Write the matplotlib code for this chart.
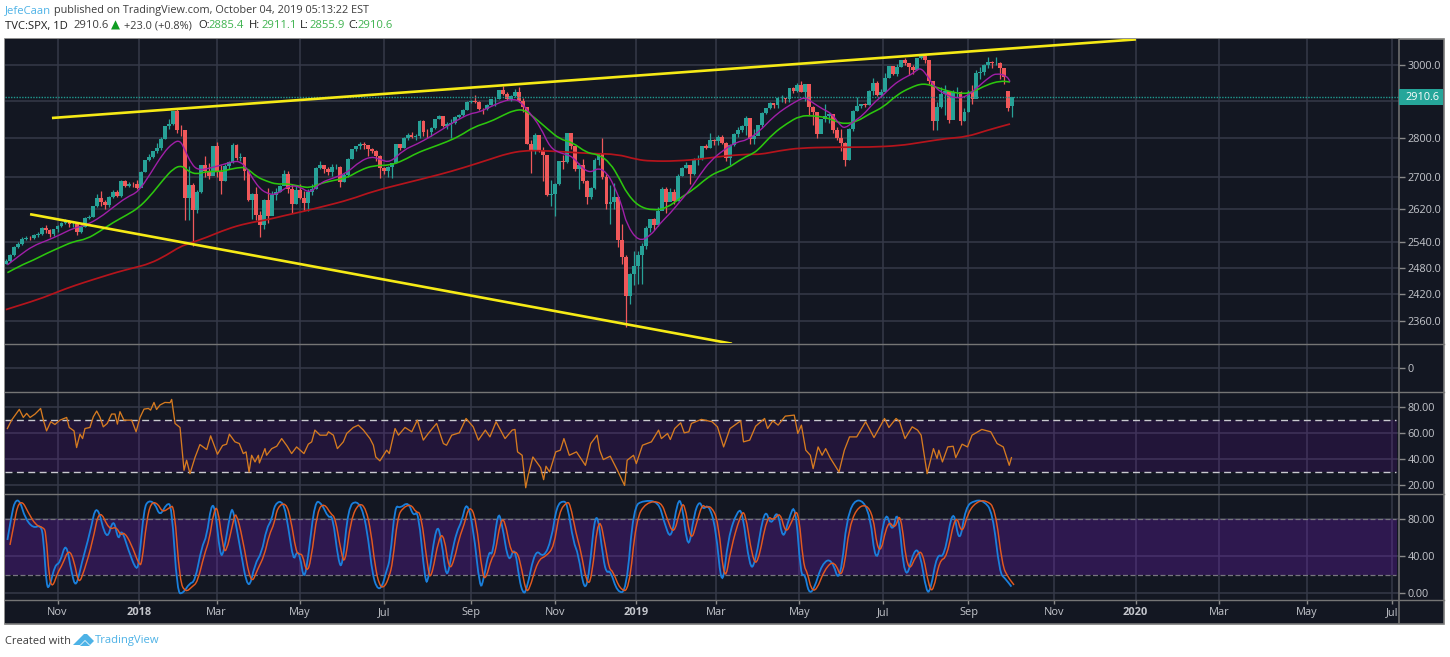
import numpy as np
import matplotlib
matplotlib.use("Agg")
import matplotlib.pyplot as plt
from matplotlib.patches import Rectangle, Polygon, PathPatch
from matplotlib.path import Path
from matplotlib.ticker import FixedLocator, FixedFormatter, NullLocator

plt.rcParams['font.family'] = ['Open Sans', 'DejaVu Sans']

W, H = 1450, 657

# ---- two-session candles, one sample every second bar
closes = [2497,2510,2529,2537,2549,2551,2550,2557,2561,2575,
 2569,2560,2572,2579,2587,2591,2584,2584,2564,2578,
 2599,2602,2627,2648,2639,2630,2651,2664,2652,2690,
 2679,2683,2682,2673,2713,2743,2751,2767,2776,2798,
 2832,2837,2872,2822,2821,2648,2681,2619,2662,2731,
 2716,2703,2779,2713,2691,2728,2738,2783,2750,2752,
 2716,2643,2658,2605,2582,2644,2604,2656,2663,2677,
 2708,2670,2634,2667,2648,2635,2663,2671,2723,2730,
 2722,2712,2725,2727,2689,2705,2746,2772,2779,2786,
 2782,2773,2767,2755,2723,2716,2726,2736,2784,2774,
 2801,2809,2804,2806,2846,2818,2816,2827,2850,2858,
 2833,2839,2840,2857,2861,2875,2897,2901,2896,2878,
 2877,2888,2904,2904,2930,2919,2906,2914,2923,2901,
 2884,2785,2767,2809,2768,2756,2656,2658,2682,2740,
 2738,2814,2781,2722,2730,2690,2650,2673,2744,2760,
 2700,2633,2637,2650,2545,2506,2416,2467,2485,2510,
 2531,2574,2596,2582,2616,2670,2639,2664,2640,2704,
 2724,2731,2707,2745,2746,2780,2774,2796,2793,2803,
 2789,2749,2783,2811,2822,2832,2855,2798,2805,2834,
 2867,2880,2895,2888,2907,2907,2905,2934,2926,2943,
 2924,2945,2884,2871,2812,2850,2860,2865,2822,2802,
 2788,2744,2826,2873,2885,2891,2889,2926,2950,2917,
 2924,2964,2996,2975,2993,3014,3004,2995,2985,3020,
 3025,3013,2954,2845,2884,2919,2926,2848,2924,2924,
 2847,2869,2924,2906,2976,2979,3000,3007,3005,3006,
 2992,2965,2880,2910.6]
highs = [2500,2512,2531,2540,2552,2555,2555,2559,2564,2578,
 2582,2573,2572,2582,2589,2597,2594,2590,2586,2582,
 2601,2606,2628,2658,2665,2642,2652,2669,2668,2694,
 2694,2689,2687,2692,2715,2744,2760,2768,2787,2803,
 2833,2850,2873,2877,2836,2822,2728,2686,2668,2732,
 2754,2735,2780,2790,2731,2733,2741,2787,2786,2761,
 2745,2718,2661,2675,2617,2645,2672,2666,2672,2680,
 2718,2716,2683,2677,2682,2665,2670,2683,2726,2742,
 2732,2727,2733,2733,2728,2710,2749,2773,2779,2791,
 2790,2782,2775,2770,2756,2725,2729,2737,2785,2785,
 2804,2815,2816,2811,2848,2848,2825,2830,2851,2863,
 2860,2844,2850,2859,2865,2877,2899,2903,2917,2900,
 2882,2892,2906,2911,2930,2941,2925,2915,2932,2939,
 2909,2884,2795,2813,2809,2778,2750,2692,2686,2741,
 2756,2815,2815,2781,2735,2746,2693,2675,2750,2760,
 2800,2708,2680,2685,2650,2585,2510,2468,2520,2519,
 2538,2580,2597,2598,2625,2675,2675,2672,2670,2708,
 2726,2738,2732,2748,2757,2781,2785,2814,2798,2808,
 2809,2790,2785,2813,2830,2835,2860,2846,2826,2836,
 2869,2882,2896,2895,2911,2917,2909,2936,2937,2950,
 2954,2947,2932,2885,2863,2852,2892,2868,2860,2830,
 2825,2790,2827,2875,2910,2892,2895,2930,2964,2955,
 2932,2977,2996,2996,3002,3014,3018,3006,3000,3020,
 3028,3030,3014,2945,2898,2938,2944,2925,2931,2939,
 2928,2880,2931,2943,2986,2993,3001,3021,3011,3022,
 3007,2992,2927,2911.1]
lows = [2488,2494,2508,2526,2535,2545,2546,2548,2552,2558,
 2562,2552,2556,2566,2576,2584,2576,2578,2557,2562,
 2576,2597,2600,2625,2627,2620,2625,2648,2650,2650,
 2676,2675,2676,2670,2682,2713,2740,2748,2762,2770,
 2798,2825,2835,2815,2805,2593,2593,2532,2610,2660,
 2700,2696,2710,2700,2659,2690,2721,2736,2745,2740,
 2693,2640,2596,2593,2553,2573,2586,2606,2642,2662,
 2681,2660,2612,2632,2645,2617,2615,2655,2670,2720,
 2710,2705,2704,2720,2676,2688,2700,2747,2768,2773,
 2772,2755,2761,2741,2698,2709,2700,2698,2736,2770,
 2774,2795,2800,2795,2802,2805,2800,2805,2826,2850,
 2830,2826,2802,2838,2853,2858,2875,2893,2895,2875,
 2864,2875,2888,2885,2905,2915,2903,2900,2910,2898,
 2870,2784,2710,2760,2764,2690,2653,2627,2603,2680,
 2722,2735,2772,2716,2670,2685,2632,2645,2670,2730,
 2695,2621,2585,2621,2528,2488,2346,2397,2440,2444,
 2443,2524,2565,2570,2580,2620,2612,2640,2632,2640,
 2704,2723,2682,2705,2731,2745,2771,2775,2783,2782,
 2785,2741,2730,2780,2804,2818,2810,2785,2786,2810,
 2830,2866,2877,2880,2881,2896,2893,2896,2922,2925,
 2923,2900,2862,2836,2801,2820,2844,2840,2815,2795,
 2766,2729,2745,2820,2873,2880,2883,2888,2915,2913,
 2912,2925,2964,2970,2968,2993,3000,2970,2974,2985,
 3015,3005,2945,2822,2822,2880,2862,2840,2860,2910,
 2834,2845,2870,2891,2915,2960,2970,2990,2990,3000,
 2960,2945,2874,2855.9]
opens = [2490] + closes[:-3] + [2927, 2885.4]

# ---- moving averages (bar number, price)
ma20_bars = [.8,7.1,13.8,20.5,27.2,33.9,40.7,47.4,54,60.8,66.6,72.5,79.2,84.2,87.6,90,93.5,96.8,101,107.7,114.4,117.7,121,124.4,127.8,131.1,135.3,139.5,142.9,147.9,
 153,158,164.8,171.5,178.2,184,188.2,193.3,200,206.7,213.4,220.1,226.8,233.5,237.7,243.6,250.3,255.3,258.7,263.7,268.8,
 273.7,278.7,282,285.4,289.6,293.8,298,302.2,305.5,309.7,312.2,318.1,324,329,334,339.1,344.1,349.1,354.2,360.9,367.6,372.6,
 379.2,384.2,389.2,394.3,398.5,401.8,406,411,415.2,419.4,421.9,426.1,431.1,436.2,441.2,446.2,451.2,456.3,459.6,463,467.2,473,478,483.1,488.1,494.8,498.2,503.2,504.9]
ma20_vals = [2487,2510,2532,2544,2558,2574,2582,2600,2625,2650,2663,2707,2762,2789,2795,2770,2732,2718,2721,2730,2740,2740,2724,2694,2671,2660,2655,2669,2679,2676,
 2659,2686,2698,2711,2741,2753,2745,2737,2770,2785,2804,2826,2848,2866,2869,2884,2900,2905,2898,2866,2830,
 2775,2762,2758,2750,2724,2711,2724,2711,2682,2631,2582,2542,2555,2586,2610,2640,2669,2707,2741,2770,2791,2795,
 2820,2848,2871,2889,2902,2910,2894,2877,2866,2835,2826,2844,2862,2894,2916,2944,2962,2976,2993,2972,2935,2916,2907,2912,2935,2967,2976,2969,2953]
ma50_bars = [.8,7.1,13.8,20.5,27.2,33.9,40.7,47.4,54,60.8,66.6,72.5,79.2,84.2,88.4,91.8,96,101,107.7,112.7,117.7,121,126.1,131.1,136.2,141.2,147.9,
 153,158,164.8,171.5,178.2,184.9,193.3,200,206.7,213.4,221.8,228.5,235.2,243.6,250.3,255.3,260.3,265.4,272.1,
 278.7,284.5,292.1,298,303.8,308.8,312.2,318.1,325.6,332.3,339.1,345.8,352.5,357.5,362.5,370.9,375.9,
 379.2,385.9,392.6,399.3,406,412.7,417.7,421.9,427.8,434.5,441.2,447.9,454.6,461.3,468,474.7,481.4,486.5,493.2,499.9,504.9]
ma50_vals = [2469,2485,2498,2514,2528,2542,2548,2567,2588,2606,2623,2652,2694,2722,2730,2715,2707,2715,2714,2720,2725,2724,2701,2690,2682,2684,2677,
 2673,2684,2692,2698,2718,2730,2730,2743,2762,2775,2791,2807,2830,2844,2862,2874,2877,2857,2826,
 2797,2791,2762,2758,2737,2694,2660,2627,2617,2623,2648,2669,2698,2713,2721,2750,2761,
 2775,2813,2839,2860,2860,2855,2844,2838,2844,2866,2883,2916,2936,2949,2937,2925,2919,2925,2944,2955,2952]
ma200_bars = [0,15.2,22.2,30.6,39,47.4,55.8,64.1,72.5,80.9,87.6,92.6,101,111.1,121.1,131.1,139.5,147.9,
 159.7,173.1,184.9,201.6,218.4,230.1,243.6,251.9,260.3,268.7,277.2,
 295.5,307.2,317.3,324,337.4,350.8,362.5,374.3,
 379.2,389.2,399.3,416,434.5,449.5,459.6,473,483.1,493.2,504.9]
ma200_vals = [2385,2406,2418,2433,2446,2458,2470,2480,2490,2510,2530,2538,2552,2572,2586,2594,2604,2613,
 2627,2644,2665,2686,2707,2724,2746,2760,2768,2768,2766,
 2760,2759,2745,2741,2741,2747,2755,2759,
 2758,2768,2775,2777,2777,2781,2789,2800,2804,2821,2838]

# ---- hand-drawn trend lines (bar number, price)
upper_bars, upper_vals = [23.2, 568.2], [2854, 3072]
lower_bars, lower_vals = [12.2, 365.1], [2608, 2310]

# ---- RSI
rsi_bars = [.8,2.9,6.8,8.8,10.5,12.2,14.7,17.5,18.9,20.5,22.6,24.7,27.2,30.6,31.9,34.3,35.6,37.3,38.6,39.8,42.3,44,45.7,47.4,49,51,53.2,54.9,56.1,57.4,59.4,63.3,65.5,67.5,69.5,71.7,72.8,74.5,75.8,77.5,80,82.6,83.4,85.1,87.6,89.6,90.9,92.6,95.1,97.6,101,103,106.4,109,111,112.4,115.2,117.4,119.4,120.8,122.3,123.6,125.3,127,127.5,130.3,131.1,133.7,136.2,138.7,141.5,143.7,146.2,149.9,152.1,153.8,155.4,158,161.3,162.2,164.7,166.7,169.7,171.4,174.7,177.2,179.8,183.1,184.8,186,188.1,191.5,192.8,195.7,197.4,200.7,204.1,206.9,209.9,212.4,216.6,220,221.6,224.2,228,231.4,235,237.6,
 241.1,243.4,246.5,251,254.6,256,257.3,259.6,261.4,262.6,265,268.9,270.4,271.6,273.4,276.5,278.8,280.6,283.3,286.9,291.4,294.1,297.3,298.6,300.4,303.9,307.5,311.1,312.4,315.6,317,320.1,324.6,328.2,329.6,332.7,334.1,336.3,339.3,341.1,343.4,344.7,349.7,355.1,357.8,360.9,364.1,369.5,370.9,374,377,381.5,383,385.6,388.3,391.9,396.4,398.2,400,402.2,404.5,405.9,408.4,410.4,412.2,414.4,418.9,421.6,424.2,427.8,432.3,436.5,441.8,444,447.6,449.4,452.1,455.7,458.4,460.2,463.2,466.4,468.2,469.1,470.9,473.6,476.3,477.6,480.8,483.5,485.8,490.7,495.2,498.4,501.5,504.5,505.6]
rsi_vals = [63.3,69.7,78,71.8,74.9,71.8,74.4,78.7,69.7,61.5,68.5,66.4,69.7,71.8,64.1,61.5,48.7,59,55.6,63.3,64.1,72.3,76.7,71.8,64.6,67.2,74.4,74.4,66.7,76.2,69.7,69.7,60.8,71.8,78.2,78.7,77.4,83.3,77.9,81.3,83.3,83.1,85.6,67.2,64.1,31.3,39,28.7,41,51,47.2,57.7,43.6,50.3,51.3,59,53.1,51.8,44.1,45.4,30,42.8,37.7,42.8,36.9,47.9,42.8,47.9,49.7,55.6,49.7,44.1,49.2,44.1,51.3,53.1,62.1,58.2,58.2,60.8,58.2,47.9,53.1,59.5,64.1,65.9,62.1,55.6,50.5,41.5,38.5,46.7,44.1,63.3,58.2,64.1,60.8,69.7,54.4,59.5,67.2,51.8,50.5,58.2,60,71,64.6,54.4,
 62.1,56.9,68.5,55.6,62.1,62.6,45.4,42.8,17.9,27.4,41.5,33.3,24.1,34.4,30,45.4,46.7,55.6,42.8,45.4,35.1,51.8,58.2,46.7,39.5,42.1,31.3,19.7,39,42.8,36.4,50.5,53.1,62.1,55.6,59.5,54.9,63.3,67.7,60,60.8,67.2,70.3,68.5,64.6,49.2,63.3,69.2,53.1,54.4,65.1,71,63.3,69.2,65.9,72.8,73.6,59.5,65.9,46.7,42.8,32.6,49.2,42.8,47.9,41,30,46.7,56.9,56.9,68.5,56.4,71,64.1,71,68.5,55.6,64.6,62.1,58.2,28.7,47.9,40.3,46.7,37.7,49.2,49.7,41,51.3,49.2,58.2,62.6,60.8,51.8,49.2,35.1,41]

# ---- Stochastic
stoch_bars = [.8,2.9,4.6,7.1,9.7,13.8,17.5,18.9,20.5,22.2,24.7,27.2,30.3,33.1,35.3,38.1,42.3,45.7,50.7,54.1,56.6,58.2,61.6,65.8,67.1,69.5,71.7,75,77.5,80.9,83.4,86.2,89.2,92.3,95.1,98.5,101,103.2,105.2,107.7,109.4,113.1,114.4,117.7,121.9,125.3,128.6,131.1,133.7,135.3,139.5,142,144.6,146.2,147.9,149.9,152.1,155.4,158.8,162.2,164.3,167.2,169.2,172.2,176.4,179.8,182.3,184.3,186.5,189,191.5,193.2,195.7,198.2,202.4,204.9,207.4,210.8,212.4,216.6,219.1,221.6,224.2,226.7,229.2,231.7,235,238.4,
 240.2,242.9,244.7,247.4,249.5,252.8,255.8,258.2,260,261.7,266.2,270.4,274.3,277,280.6,282.4,285.4,287.8,290.8,293.2,296.8,300.4,302.1,303.9,307.5,312,315.6,320.6,328.2,330.9,334.5,337.7,339.9,343.1,346.1,348.8,350.6,353.3,356.9,360.1,363.2,368,370.4,374,376.7,381.5,384.7,388,390.7,393.7,397,399.7,401.8,403.6,406.3,410.4,415.3,419.4,423.7,433.8,437.7,442.2,445.8,448.5,452.1,456.6,459.6,462.9,465,468.2,471.8,476.3,479.4,482.6,487.1,491.6,496.1,499.7,502.4,505.6]
stoch_k = [57.4,84.3,99.7,100,80.7,70,73.5,61,5.4,7.9,30.5,32.3,56.3,21.5,5.4,32.3,64.6,99.4,53.8,82.5,55.6,70,46.6,23.3,35.9,91.5,100,96.9,82.5,96.9,95,0,0,10.8,12.5,50.2,61,95,93.3,41.2,41.2,89.7,89.7,50.2,0,32.3,43,70,78.9,96.9,99.7,71.7,34.1,44.8,41.2,12.5,39.5,100,96.9,80.7,84.3,34.1,26.9,93.3,100,87.9,57.4,21.5,5.4,5.4,25.1,35.9,95,91.5,98.7,82.5,89.7,12.5,12.5,77.1,57.4,12.5,43,66.4,77.1,100,71.7,3.6,
 14.3,46.6,39.5,89,75.3,30.5,52,14.3,0,1.8,48.4,37.7,57.4,95,100,95,54.5,43,1.8,17.9,98.7,35.9,21.5,25.1,.7,1.8,93.3,100,98.7,77.1,55.6,100,98.7,42.3,86.1,100,89.7,96.1,71.7,0,61,89.7,87.9,26.9,30.5,94,71.7,91.5,55.6,80.7,97.6,17.9,21.5,0,3.6,32.3,37.7,7.2,100,99.7,21.5,93.3,62.8,94,9,47.4,44.8,0,3.6,43,37.7,96.1,50.2,93.3,100,99.7,87.9,21.5,16.1,7.2]
stoch_d = [52,75,95,99,88,73,71,66,16,6,22,31,48,35,9,24,55,92,68,72,62,66,54,30,32,78,98,97,87,92,95,12,1,7,12,42,57,88,94,52,42,78,88,60,8,26,40,63,75,93,98,80,45,42,42,22,34,90,97,85,82,45,30,80,98,91,66,30,8,6,18,33,82,92,96,87,87,28,13,62,62,24,36,60,74,95,82,18,
 16,38,42,78,80,42,46,25,4,2,36,40,50,88,98,97,64,46,10,14,88,48,26,24,4,2,80,98,99,82,62,90,99,54,76,96,92,94,78,8,48,84,89,38,30,84,78,88,64,76,94,30,22,4,3,26,36,12,88,99,34,80,68,90,20,42,46,6,2,36,38,88,62,88,99,100,92,30,18,9]

# ---- axes content
time_ticks = [26,67,106,148,190,234,276,317,357,399,441,484,527,568,610,654,697]
time_labels = ['Nov','2018','Mar','May','Jul','Sep','Nov','2019','Mar','May','Jul','Sep','Nov','2020','Mar','May','Jul']
price_ticks = [3000,2900,2800,2700,2620,2540,2480,2420,2360]
price_labels = ['3000.0','','2800.0','2700.0','2620.0','2540.0','2480.0','2420.0','2360.0']
rsi_ticks, rsi_labels = [80,60,40,20], ['80.00','60.00','40.00','20.00']
stoch_ticks, stoch_labels = [80,40,0], ['80.00','40.00','0.00']
last_price = 2910.6

BG = '#131722'; GRID = '#363a49'; SEP = '#757575'; TXT = '#c4c6cc'
UP = '#27a197'; DOWN = '#f0585a'
PL, PR = 5, 1398.7
XLIM = (-0.4, 700.3)

fig = plt.figure(figsize=(W/100, H/100), dpi=100, facecolor='white')

def to_fig(x, y):
    return x/W, 1-y/H

def add_pane(y0, y1):
    ax = fig.add_axes([PL/W, 1-y1/H, (PR-PL)/W, (y1-y0)/H], facecolor=BG)
    ax.set_xlim(*XLIM)
    ax.xaxis.set_major_locator(FixedLocator(time_ticks))
    ax.tick_params(axis='x', bottom=False, labelbottom=False)
    ax.yaxis.tick_right()
    ax.tick_params(axis='y', right=True, left=False, length=4, width=1, color='#8a8a8a',
                   labelcolor=TXT, labelsize=7.8, pad=2.5)
    ax.grid(True, color=GRID, lw=1.1, zorder=0)
    ax.set_axisbelow(True)
    for s in ax.spines.values():
        s.set_visible(False)
    return ax

def curve(ax, x, y, color, lw, z):
    """Draw a rounded line through the given readings with the library's path curves."""
    pts = np.column_stack([x, y])
    verts = [pts[0]]
    codes = [Path.MOVETO]
    for i in range(1, len(pts)-1):
        verts += [pts[i], (pts[i]+pts[i+1])/2]
        codes += [Path.CURVE3, Path.CURVE3]
    verts.append(pts[-1])
    codes.append(Path.LINETO)
    ax.add_patch(PathPatch(Path(np.array(verts), codes), fill=False, edgecolor=color, lw=lw, zorder=z))

# background of the whole chart block
fig.add_artist(Rectangle(to_fig(4.5, 623.5), 1439.8/W, 585/H, transform=fig.transFigure,
                         facecolor=BG, edgecolor='#7a7a7a', lw=1.2, zorder=-1))

# ---- main pane
ax = add_pane(38.5, 343.5)
ax.set_yscale('log')
ax.set_ylim(2310.5, 3074.6)
ax.yaxis.set_minor_locator(NullLocator())
ax.yaxis.set_major_locator(FixedLocator(price_ticks))
ax.yaxis.set_major_formatter(FixedFormatter(price_labels))

bars = np.arange(len(closes)) * 2
o, c, h, l = map(np.array, (opens, closes, highs, lows))
colors = np.where(c >= o, UP, DOWN)
ax.vlines(bars, l, h, colors=colors, lw=0.9, zorder=2)
ax.bar(bars, np.abs(c-o), bottom=np.minimum(o, c), width=1.95, color=colors, lw=0, zorder=3)

curve(ax, ma200_bars, ma200_vals, '#b5141c', 1.25, 4)
curve(ax, ma50_bars, ma50_vals, '#2cc60e', 1.15, 5)
curve(ax, ma20_bars, ma20_vals, '#a01fa8', 1.0, 6)
ax.plot(upper_bars, upper_vals, color='#f6ea16', lw=1.9, zorder=7, solid_capstyle='butt')
ax.plot(lower_bars, lower_vals, color='#f6ea16', lw=1.9, zorder=7, solid_capstyle='butt')
ax.axhline(last_price, color='#1f9a90', lw=1, ls=(0, (1, 1)), zorder=3)

# ---- empty pane
ax2 = add_pane(343.5, 392)
ax2.set_ylim(-1, 1)
ax2.yaxis.set_major_locator(FixedLocator([0]))
ax2.yaxis.set_major_formatter(FixedFormatter(['0']))

# ---- RSI pane
ax3 = add_pane(392, 493.5)
ax3.set_ylim(13.5, 91.3)
ax3.yaxis.set_major_locator(FixedLocator(rsi_ticks))
ax3.yaxis.set_major_formatter(FixedFormatter(rsi_labels))
ax3.fill_between([XLIM[0], 699.5], 30, 70, color='#7E10C2', alpha=.15, lw=0, zorder=1)
for lvl in (70, 30):
    ax3.hlines(lvl, XLIM[0], 699, color='#c9c9cf', lw=1, linestyles=(0, (5, 3.2)), zorder=2)
ax3.plot(rsi_bars, rsi_vals, color='#d67b20', lw=0.95, zorder=3)

# ---- Stochastic pane
ax4 = add_pane(493.5, 600)
ax4.set_ylim(-7.2, 107.4)
ax4.yaxis.set_major_locator(FixedLocator(stoch_ticks))
ax4.yaxis.set_major_formatter(FixedFormatter(stoch_labels))
ax4.fill_between([XLIM[0], 699.5], 20, 80, color='#7F1BD6', alpha=.25, lw=0, zorder=1)
for lvl in (80, 20):
    ax4.hlines(lvl, XLIM[0], 699, color='#77757f', lw=0.9, linestyles=(0, (4, 2)), zorder=2)
curve(ax4, stoch_bars, stoch_k, '#1a7fdc', 1.3, 3)
curve(ax4, np.array(stoch_bars)+1.3, stoch_d, '#e2591f', 1.05, 4)

# ---- time pane
ax5 = fig.add_axes([PL/W, 1-623/H, (PR-PL)/W, 23/H], facecolor=BG)
ax5.set_xlim(*XLIM)
ax5.set_yticks([])
for s in ax5.spines.values():
    s.set_visible(False)
ax5.set_xticks(time_ticks)
ax5.set_xticklabels(time_labels)
ax5.tick_params(axis='x', bottom=False, top=True, direction='in', length=3, color='#8a8a8a',
                width=1, labelcolor=TXT, labelsize=7.9, pad=-11.5)
for t, lab in zip(ax5.get_xticklabels(), time_labels):
    if lab.isdigit():
        t.set_fontweight('bold')

# ---- separators, price scale rule
for y in (343.5, 392, 493.5, 600):
    fig.add_artist(plt.Line2D([5/W, 1444/W], [1-y/H, 1-y/H], color=SEP, lw=1, zorder=8))
fig.add_artist(plt.Line2D([PR/W, PR/W], [1-38.5/H, 1-623/H], color=SEP, lw=1.1, zorder=8))

# ---- last price tag
fig.add_artist(Rectangle(to_fig(1398.7, 104.5), 44.6/W, 15.5/H, transform=fig.transFigure,
                         facecolor='#26a69a', edgecolor='none', zorder=9))
fig.text(1406/W, 1-97/H, '2910.6', color='white', fontsize=7.8, va='center', ha='left', zorder=10)

# ---- header
DARK = '#3d3d3d'; GREEN = '#3fb34f'; BLUE = '#4db2e6'
def label(x, y, s, color=DARK, size=8.1, **kw):
    fig.text(x/W, 1-y/H, s, color=color, fontsize=size, va='center', ha='left', **kw)
label(5, 11, 'JefeCaan', BLUE)
label(54.5, 11, 'published on TradingView.com, October 04, 2019 05:13:22 EST', size=7.85)
label(5, 26, 'TVC:SPX, 1D', '#1e1e1e')
label(73.5, 26, '2910.6')
label(110.5, 25.5, '\u25b2', '#0f9d22', size=8.5, family='DejaVu Sans')
label(124, 26, '+23.0 (+0.8%)', size=7.95)
for x, s, xv, v in [(198, 'O:', 209, '2885.4'), (249, 'H:', 261, '2911.1'),
                    (300, 'L:', 310, '2855.9'), (348, 'C:', 358, '2910.6')]:
    label(x, 26, s, '#1e1e1e')
    label(xv, 26, v, GREEN)

# ---- footer
label(5, 641, 'Created with', size=7.9)
label(95, 641, 'TradingView', BLUE, size=8.1)
def logo(pts, fc):
    fig.add_artist(Polygon([to_fig(*p) for p in pts], transform=fig.transFigure,
                           facecolor=fc, edgecolor='none', zorder=5))
logo([(73, 645), (84, 634), (87, 634), (94, 641), (90, 645), (85, 640), (80, 645)], '#4db2e6')
logo([(80, 646), (85, 641), (90, 646)], '#4db2e6')

fig.savefig('out.png', dpi=100, facecolor='white')
